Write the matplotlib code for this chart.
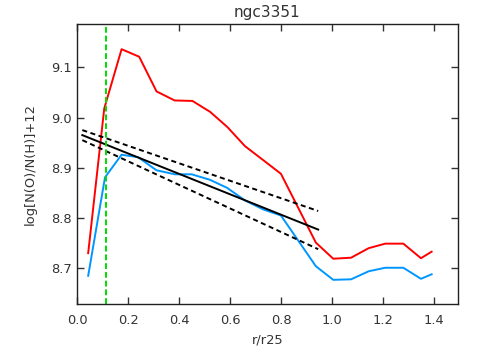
import numpy as np
import matplotlib
matplotlib.use('Agg')
import matplotlib.pyplot as plt

## data
r_red = [0.044, 0.107, 0.175, 0.244, 0.312, 0.383, 0.453, 0.523, 0.590, 0.659,
         0.731, 0.800, 0.937, 1.005, 1.075, 1.144, 1.209, 1.280, 1.349, 1.391]
oh_red = [8.730, 9.018, 9.136, 9.121, 9.052, 9.034, 9.033, 9.011, 8.981, 8.943,
          8.915, 8.888, 8.751, 8.719, 8.721, 8.740, 8.749, 8.749, 8.720, 8.733]

r_blue = [0.044, 0.110, 0.175, 0.240, 0.312, 0.384, 0.450, 0.522, 0.589, 0.659,
          0.731, 0.800, 0.937, 1.005, 1.075, 1.144, 1.209, 1.280, 1.349, 1.391]
oh_blue = [8.685, 8.881, 8.926, 8.921, 8.895, 8.887, 8.887, 8.876, 8.860, 8.835,
           8.817, 8.805, 8.704, 8.677, 8.678, 8.694, 8.701, 8.701, 8.679, 8.688]

r_fit = [0.021, 0.946]
oh_fit = [8.965, 8.777]
oh_fit_hi = [8.975, 8.814]
oh_fit_lo = [8.955, 8.738]

r_cut = 0.114

xticks = [0.0, 0.2, 0.4, 0.6, 0.8, 1.0, 1.2, 1.4]
yticks = [8.7, 8.8, 8.9, 9.0, 9.1]

plt.rcParams['font.family'] = 'DejaVu Sans'
txt = '#333333'

fig = plt.figure(figsize=(4.81, 3.54), dpi=100)
ax = fig.add_axes([0.160, 0.140, 0.792, 0.792])

ax.plot(r_red, oh_red, color='#ff0000', lw=1.4)
ax.plot(r_blue, oh_blue, color='#0096ff', lw=1.4)
ax.plot(r_fit, oh_fit, color='black', lw=1.4)
ax.plot(r_fit, oh_fit_hi, color='black', lw=1.4, dashes=(2.6, 1.8))
ax.plot(r_fit, oh_fit_lo, color='black', lw=1.4, dashes=(2.6, 1.8))
ax.axvline(r_cut, color='#00dd00', lw=1.4, dashes=(3.0, 1.5))

ax.set_xlim(0, 1.494)
ax.set_ylim(8.628, 9.186)
ax.set_xticks(xticks)
ax.set_xticklabels(['%.1f' % t for t in xticks])
ax.set_yticks(yticks)
ax.set_yticklabels(['%.1f' % t for t in yticks])

ax.tick_params(direction='in', length=5, width=1, top=True, right=True,
               labelsize=9.4, colors=txt)
ax.tick_params(axis='x', pad=7)
ax.tick_params(axis='y', pad=4)
for s in ax.spines.values():
    s.set_linewidth(1.0)
    s.set_color('#222222')

ax.set_title('ngc3351', fontsize=11, pad=5, color=txt)
ax.set_xlabel('r/r25', fontsize=9.4, color=txt)
ax.set_ylabel('log[N(O)/N(H)]+12', fontsize=9.4, color=txt)
ax.xaxis.set_label_coords(0.5, -0.102)
ax.yaxis.set_label_coords(-0.105, 0.5)

fig.savefig('out.png', dpi=100)
